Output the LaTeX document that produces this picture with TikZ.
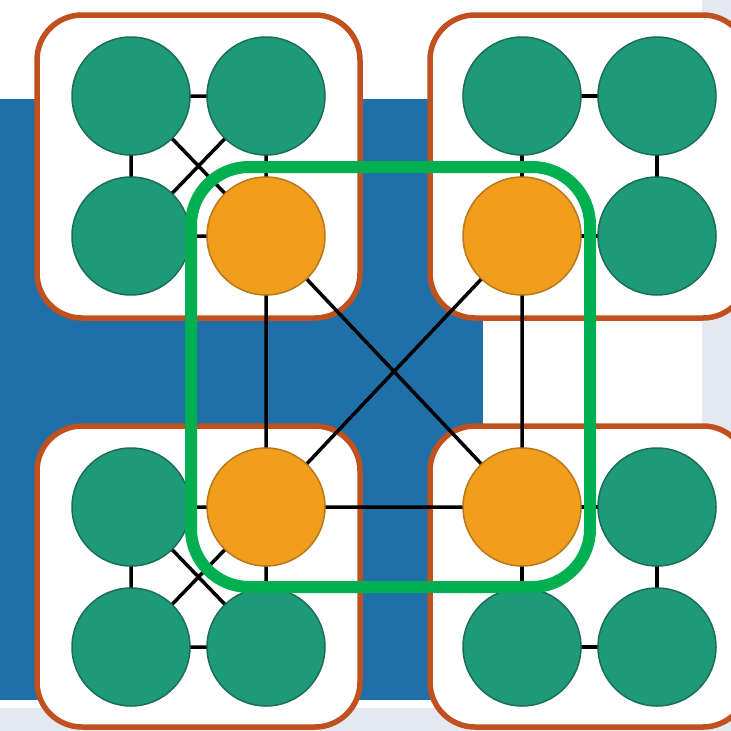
\documentclass[tikz,border=0pt]{standalone}
\usetikzlibrary{backgrounds}
\definecolor{bgblue}{RGB}{31,111,168}
\definecolor{stripgray}{RGB}{228,232,240}
\definecolor{clbrown}{RGB}{192,80,30}
\definecolor{teal}{RGB}{31,154,121}
\definecolor{tealdark}{RGB}{26,110,88}
\definecolor{orng}{RGB}{240,158,27}
\definecolor{orngdark}{RGB}{185,120,25}
\definecolor{grn}{RGB}{0,176,80}
\tikzset{
  gnode/.style={circle,fill=teal,draw=tealdark,line width=1.5pt,minimum size=118pt,inner sep=0pt},
  onode/.style={circle,fill=orng,draw=orngdark,line width=1.5pt,minimum size=118pt,inner sep=0pt},
  cluster/.style={draw=clbrown,fill=white,line width=5.5pt,rounded corners=45pt},
  link/.style={draw=black,line width=3.5pt},
  ring/.style={draw=grn,line width=12pt,rounded corners=58pt}
}
\begin{document}
\begin{tikzpicture}[x=1pt,y=-1pt]
\useasboundingbox (0,0) rectangle (731,731);
\begin{scope}
\clip (0,0) rectangle (731,731);
\fill[white] (0,0) rectangle (731,731);
\fill[stripgray] (702,0) rectangle (731,731);
\fill[stripgray] (0,708) rectangle (731,731);
\fill[bgblue] (0,99) rectangle (483,700);
% clusters
\draw[cluster] (37,15) rectangle (360,318);
\draw[cluster] (430,15) rectangle (748,318);
\draw[cluster] (37,426) rectangle (360,727);
\draw[cluster] (430,426) rectangle (748,727);
% node positions
\coordinate (pa1) at (131,96); \coordinate (pa2) at (266,96);
\coordinate (pa3) at (131,236); \coordinate (pa4) at (266,236);
\coordinate (pb1) at (522,96); \coordinate (pb2) at (657,96);
\coordinate (pb3) at (522,236); \coordinate (pb4) at (657,236);
\coordinate (pc1) at (131,507); \coordinate (pc2) at (266,507);
\coordinate (pc3) at (131,647); \coordinate (pc4) at (266,647);
\coordinate (pd1) at (522,507); \coordinate (pd2) at (657,507);
\coordinate (pd3) at (522,647); \coordinate (pd4) at (657,647);
% edges (under nodes)
\draw[link] (pa1)--(pa2) (pa1)--(pa3) (pa2)--(pa4) (pa3)--(pa4) (pa1)--(pa4) (pa2)--(pa3);
\draw[link] (pb1)--(pb2) (pb1)--(pb3) (pb2)--(pb4) (pb3)--(pb4);
\draw[link] (pc1)--(pc2) (pc1)--(pc3) (pc2)--(pc4) (pc3)--(pc4) (pc1)--(pc4) (pc2)--(pc3);
\draw[link] (pd1)--(pd2) (pd1)--(pd3) (pd2)--(pd4) (pd3)--(pd4);
\draw[link] (pa4)--(pc2) (pb3)--(pd1) (pa4)--(pd1) (pb3)--(pc2) (pc2)--(pd1);
% nodes
\node[gnode] (a1) at (pa1) {}; \node[gnode] (a2) at (pa2) {};
\node[gnode] (a3) at (pa3) {}; \node[onode] (a4) at (pa4) {};
\node[gnode] (b1) at (pb1) {}; \node[gnode] (b2) at (pb2) {};
\node[onode] (b3) at (pb3) {}; \node[gnode] (b4) at (pb4) {};
\node[gnode] (c1) at (pc1) {}; \node[onode] (c2) at (pc2) {};
\node[gnode] (c3) at (pc3) {}; \node[gnode] (c4) at (pc4) {};
\node[onode] (d1) at (pd1) {}; \node[gnode] (d2) at (pd2) {};
\node[gnode] (d3) at (pd3) {}; \node[gnode] (d4) at (pd4) {};
% green ring
\draw[ring] (191,167) rectangle (590,587);
\end{scope}
\end{tikzpicture}
\end{document}
